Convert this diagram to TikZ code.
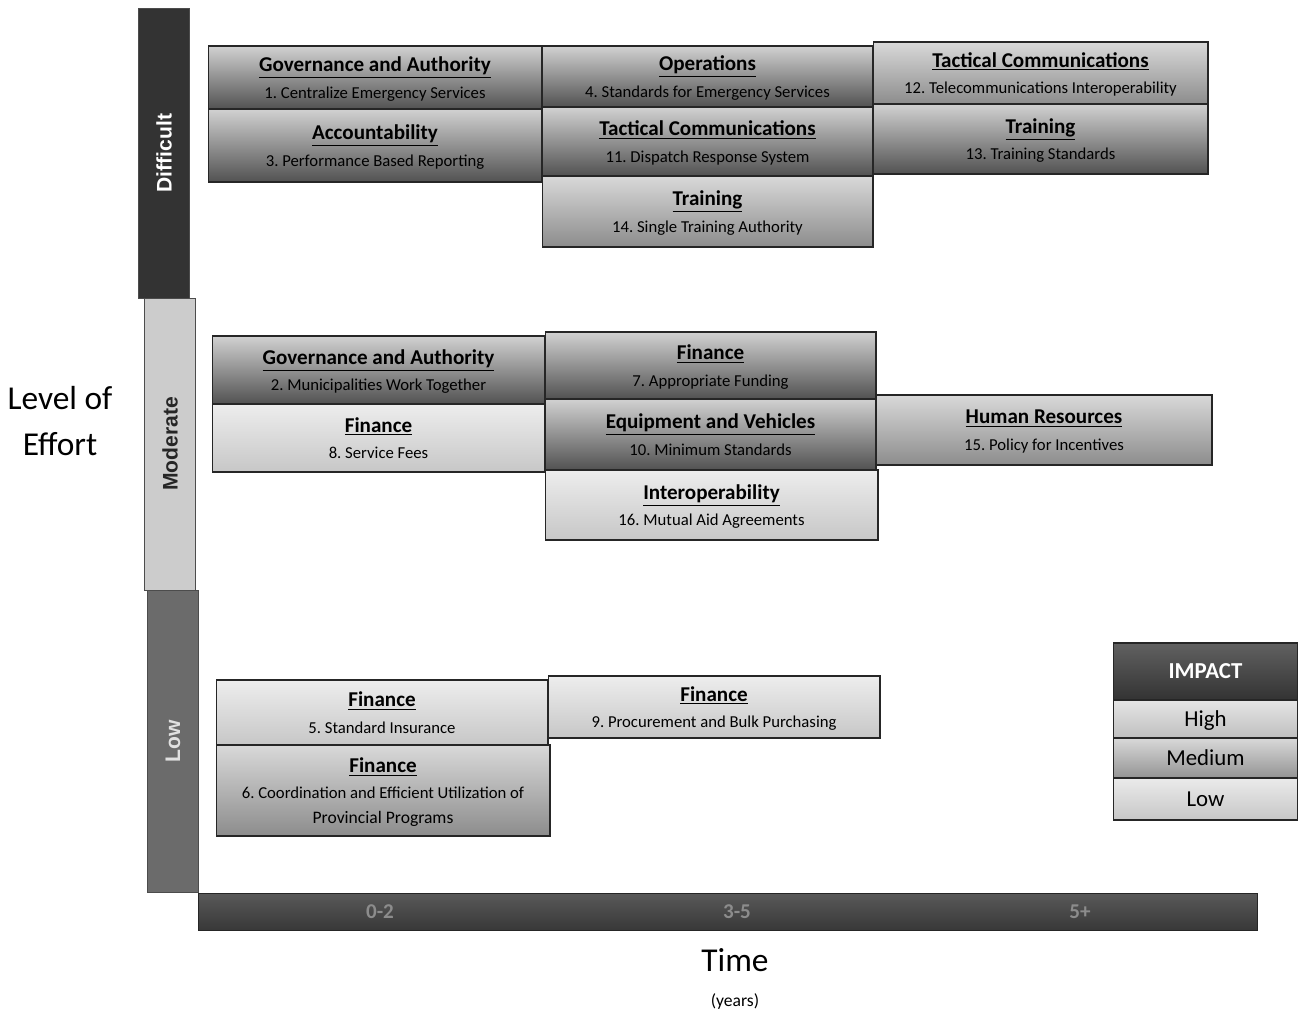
\documentclass[tikz,border=0pt]{standalone}
\usepackage{fontspec}
\setmainfont{Carlito}
\newfontfamily\barfont{Liberation Sans}
\frenchspacing
\newcommand{\entry}[2]{{\fontsize{12}{14}\selectfont\underline{\textbf{#1}}}\\[3pt]\fontsize{9.5}{12}\selectfont #2}
\tikzset{
  box/.style={draw=black!85, line width=0.6pt, align=center, inner sep=1pt, text depth=0pt},
  highbox/.style={box, top color=black!18, middle color=black!30, bottom color=black!68},
  medbox/.style={box, top color=black!15, middle color=black!24, bottom color=black!45},
  lowbox/.style={box, top color=black!7, bottom color=black!22},
  effortbar/.style={draw=black!70, line width=0.5pt, minimum height=1.02cm, font=\barfont\bfseries\fontsize{12}{14}\selectfont},
  yearlabel/.style={font=\bfseries\fontsize{12}{14}\selectfont, text=black!45},
}
\begin{document}
\begin{tikzpicture}[x=0.02cm, y=-0.02cm]
    \useasboundingbox (0,0) rectangle (1298,1017);
    % level of effort axis
    \node[effortbar, fill=black!80, text=white, minimum width=5.8cm, rotate=90] (difficult) at (164,153) {Difficult};
    \node[effortbar, fill=black!20, text=black!85, minimum width=5.84cm, rotate=90] (moderate) at (170,444) {Moderate};
    \node[effortbar, fill=black!58, text=black!12, minimum width=6.04cm, rotate=90] (low) at (173,741) {Low};
    \node[align=center, font=\fontsize{19}{26}\selectfont] (effort) at (60,421) {Level of\\Effort};
    % time axis
    \node[draw=black!85, line width=0.5pt, top color=black!65, bottom color=black!78, minimum width=21.2cm, minimum height=0.74cm] (timebar) at (728,911.5) {};
    \node[yearlabel] (short) at (380,912) {0-2};
    \node[yearlabel] (mid) at (737,912) {3-5};
    \node[yearlabel] (long) at (1080,912) {5+};
    \node[font=\fontsize{19}{22}\selectfont] (time) at (735,960) {Time};
    \node[font=\fontsize{10}{12}\selectfont] (years) at (735,1001) {(years)};
    % difficult
    \node[highbox, minimum width=6.68cm, minimum height=1.26cm] (govOne) at (375,77.5) {\entry{Governance and Authority}{1. Centralize Emergency Services}};
    \node[highbox, minimum width=6.68cm, minimum height=1.46cm] (accThree) at (375,145.5) {\entry{Accountability}{3. Performance Based Reporting}};
    \node[highbox, minimum width=6.62cm, minimum height=1.22cm] (opsFour) at (707.5,76.5) {\entry{Operations}{4. Standards for Emergency Services}};
    \node[highbox, minimum width=6.62cm, minimum height=1.38cm] (tacEleven) at (707.5,141.5) {\entry{Tactical Communications}{11. Dispatch Response System}};
    \node[medbox, minimum width=6.62cm, minimum height=1.42cm] (trnFourteen) at (707.5,211.5) {\entry{Training}{14. Single Training Authority}};
    \node[medbox, minimum width=6.7cm, minimum height=1.24cm] (tacTwelve) at (1040.5,73) {\entry{Tactical Communications}{12. Telecommunications Interoperability}};
    \node[highbox, minimum width=6.7cm, minimum height=1.4cm] (trnThirteen) at (1040.5,139) {\entry{Training}{13. Training Standards}};
    % moderate
    \node[highbox, minimum width=6.66cm, minimum height=1.36cm] (govTwo) at (378.5,370) {\entry{Governance and Authority}{2. Municipalities Work Together}};
    \node[lowbox, minimum width=6.66cm, minimum height=1.36cm] (finEight) at (378.5,438) {\entry{Finance}{8. Service Fees}};
    \node[highbox, minimum width=6.62cm, minimum height=1.34cm] (finSeven) at (710.5,365.5) {\entry{Finance}{7. Appropriate Funding}};
    \node[highbox, minimum width=6.62cm, minimum height=1.42cm] (equTen) at (710.5,434.5) {\entry{Equipment and Vehicles}{10. Minimum Standards}};
    \node[lowbox, minimum width=6.66cm, minimum height=1.4cm] (intSixteen) at (711.5,505) {\entry{Interoperability}{16. Mutual Aid Agreements}};
    \node[medbox, minimum width=6.72cm, minimum height=1.4cm] (hrFifteen) at (1044,430) {\entry{Human Resources}{15. Policy for Incentives}};
    % low
    \node[lowbox, minimum width=6.64cm, minimum height=1.3cm] (finFive) at (382,712.5) {\entry{Finance}{5. Standard Insurance}};
    \node[medbox, minimum width=6.68cm, minimum height=1.82cm] (finSix) at (383,790.5) {\entry{Finance}{6. Coordination and Efficient Utilization of\\[2pt]Provincial Programs}};
    \node[lowbox, minimum width=6.64cm, minimum height=1.24cm] (finNine) at (714,707) {\entry{Finance}{9. Procurement and Bulk Purchasing}};
    % impact legend
    \node[box, top color=black!62, bottom color=black!80, text=white, minimum width=3.7cm, minimum height=1.14cm, font=\bfseries\fontsize{13}{15}\selectfont] (impact) at (1205.5,671.5) {IMPACT};
    \node[box, top color=black!10, bottom color=black!25, minimum width=3.7cm, minimum height=0.76cm, font=\fontsize{13}{15}\selectfont] (high) at (1205.5,719) {High};
    \node[box, top color=black!15, bottom color=black!42, minimum width=3.7cm, minimum height=0.8cm, font=\fontsize{13}{15}\selectfont] (medium) at (1205.5,758) {Medium};
    \node[box, top color=black!8, bottom color=black!22, minimum width=3.7cm, minimum height=0.84cm, font=\fontsize{13}{15}\selectfont] (lowimpact) at (1205.5,799) {Low};
\end{tikzpicture}
\end{document}
